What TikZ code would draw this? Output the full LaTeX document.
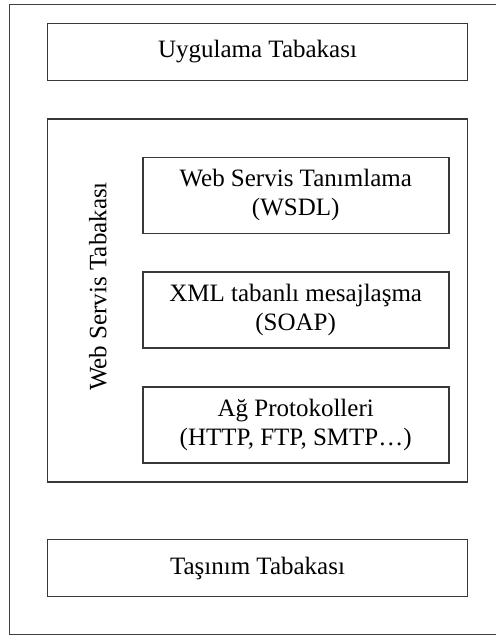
\documentclass[tikz,border=0pt]{standalone}
\usepackage{fontspec}
\setmainfont{Liberation Serif}
\begin{document}
\begin{tikzpicture}[x=1pt,y=-1pt,
  layer/.style={draw=black!78,line width=1.6pt,rectangle,inner sep=0pt,
    align=center,font=\fontsize{25}{29}\selectfont},
  wide/.style={layer,minimum width=420pt,minimum height=57pt},
  inner/.style={layer,minimum width=306pt,minimum height=76pt},
  frame/.style={draw=black!75,line width=1.6pt}]
\useasboundingbox (0,0) rectangle (496,635);
% outer frame, open on the right
\draw[frame] (496,4.3) -- (9.5,4.3) -- (9.5,634.3) -- (496,634.3);
% application layer
\node[wide] (app) at (257.5,51.8) {Uygulama Tabakası};
% web service layer with its three sub-layers
\node[layer,minimum width=420pt,minimum height=363pt] (ws) at (257.5,300.5) {};
\node[rotate=90,font=\fontsize{25}{29}\selectfont,inner sep=0pt] (wslabel) at (98,286.5) {Web Servis Tabakası};
\node[inner] (wsdl) at (295.7,195.3) {Web Servis Tanımlama\\(WSDL)};
\node[inner] (soap) at (295.7,310.2) {XML tabanlı mesajlaşma\\(SOAP)};
\node[inner] (net) at (295.7,424.7) {Ağ Protokolleri\\(HTTP, FTP, SMTP…)};
% transport layer
\node[wide] (trans) at (257.5,568) {Taşınım Tabakası};
\end{tikzpicture}
\end{document}
